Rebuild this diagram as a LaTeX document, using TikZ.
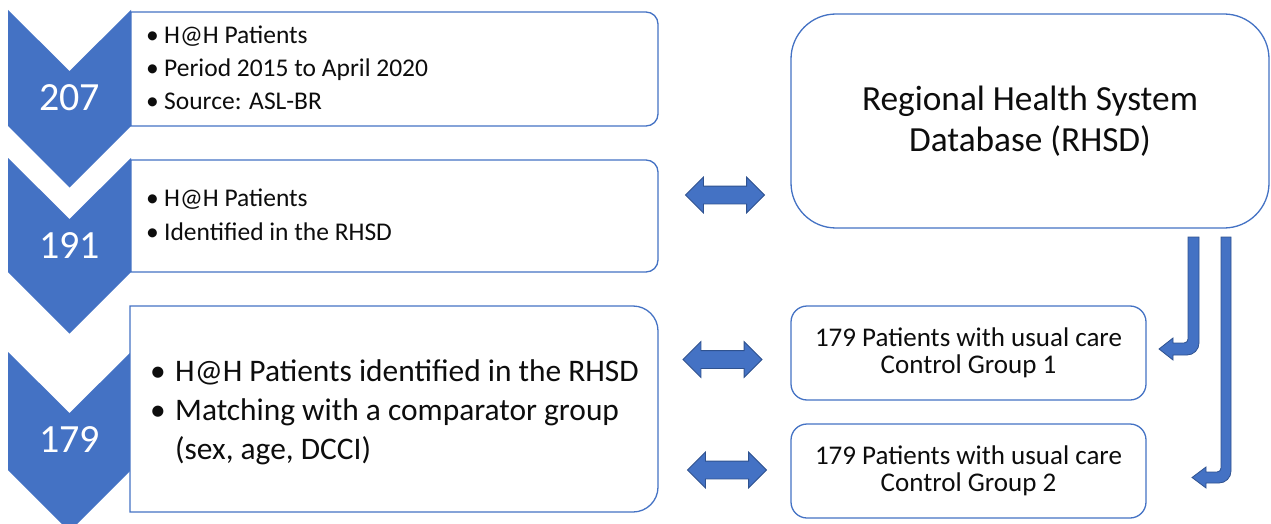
\documentclass[tikz,border=0pt]{standalone}
\usepackage{fontspec}
\setmainfont{Carlito}
\usetikzlibrary{shapes.arrows}
\definecolor{oblue}{HTML}{4472C4}
\definecolor{odark}{HTML}{2F528F}
\definecolor{txt}{HTML}{0D0D0D}
\begin{document}
\begin{tikzpicture}[x=1pt,y=-1pt,
  chev/.style={fill=oblue},
  boxline/.style={draw=oblue,line width=1.3pt,fill=white},
  num/.style={text=white,font=\fontsize{40}{48}\selectfont,inner sep=0pt},
  bul/.style={anchor=west,inner sep=0pt,align=left,text=txt},
  dbl/.style={double arrow,fill=oblue,draw=odark,line width=0.8pt,minimum height=79pt,double arrow head extend=9pt,double arrow tip angle=90,inner xsep=0pt,inner ysep=8.5pt,anchor=center},
  bent/.style={fill=oblue,draw=odark,line width=0.8pt},
  rbox/.style={draw=oblue,line width=1.3pt,fill=white,align=center,text=txt,inner sep=0pt},
]
\useasboundingbox (0,0) rectangle (1271,524);
% chevrons
\fill[chev] (8,10) -- (69.5,71) -- (131,10) -- (131,126) -- (69.5,187.5) -- (8,126) -- cycle;
\fill[chev] (8,158) -- (69.5,219) -- (131,158) -- (131,272) -- (69.5,333.5) -- (8,272) -- cycle;
\fill[chev] (8,352) -- (69.5,413) -- (131,352) -- (131,470) -- (69.5,531.5) -- (8,470) -- cycle;
\node[num] (n1) at (69.5,97.5) {207};
\node[num] (n2) at (69.5,246) {191};
\node[num] (n3) at (69.5,440) {179};
% left boxes
\draw[boxline] (131,126) -- (131,12) [rounded corners=12pt]-- (658,12) -- (658,126) [sharp corners]-- cycle;
\draw[boxline] (131,272) -- (131,160) [rounded corners=12pt]-- (658,160) -- (658,272) [sharp corners]-- cycle;
\draw[boxline] (130,512) -- (130,306) [rounded corners=25pt]-- (658,306) -- (658,512) [sharp corners]-- cycle;
\node[bul,font=\fontsize{25.5}{33}\selectfont] (t1) at (146,68) {\makebox[18pt][l]{•}H@H Patients\\\makebox[18pt][l]{•}Period 2015 to April 2020\\\makebox[18pt][l]{•}Source: ASL-BR};
\node[bul,font=\fontsize{25.5}{34}\selectfont] (t2) at (146,215) {\makebox[18pt][l]{•}H@H Patients\\\makebox[18pt][l]{•}Identified in the RHSD};
\node[bul,font=\fontsize{31.4}{39}\selectfont] (t3) at (150,412) {\makebox[25pt][l]{•}H@H Patients identified in the RHSD\\\makebox[25pt][l]{•}Matching with a comparator group\\\hspace*{25pt}(sex, age, DCCI)};
% right boxes
\node[rbox,rounded corners=45pt,minimum width=478pt,minimum height=214pt,font=\fontsize{35.3}{41}\selectfont] (rhsd) at (1030,121) {Regional Health System\\Database (RHSD)};
\node[rbox,rounded corners=16pt,minimum width=355pt,minimum height=94pt,font=\fontsize{27}{27}\selectfont] (c1) at (968.5,353) {179 Patients with usual care\\Control Group 1};
\node[rbox,rounded corners=16pt,minimum width=355pt,minimum height=94pt,font=\fontsize{27}{27}\selectfont] (c2) at (968.5,471) {179 Patients with usual care\\Control Group 2};
% double arrows
\node[dbl] (d1) at (725,195) {};
\node[dbl] (d2) at (722.5,359.5) {};
\node[dbl] (d3) at (727,470) {};
% bent arrows
\draw[bent] (1188,237) -- (1199,237) [rounded corners=12pt]-- (1199,355) [sharp corners]-- (1173,355) -- (1173,360) -- (1159,349) -- (1173,338) -- (1173,343) [rounded corners=4pt]-- (1188,343) [sharp corners]-- cycle;
\draw[bent] (1221,237) -- (1231,237) [rounded corners=12pt]-- (1231,483) [sharp corners]-- (1206,483) -- (1206,488) -- (1192,477.5) -- (1206,467) -- (1206,472) [rounded corners=4pt]-- (1221,472) [sharp corners]-- cycle;
\end{tikzpicture}
\end{document}
